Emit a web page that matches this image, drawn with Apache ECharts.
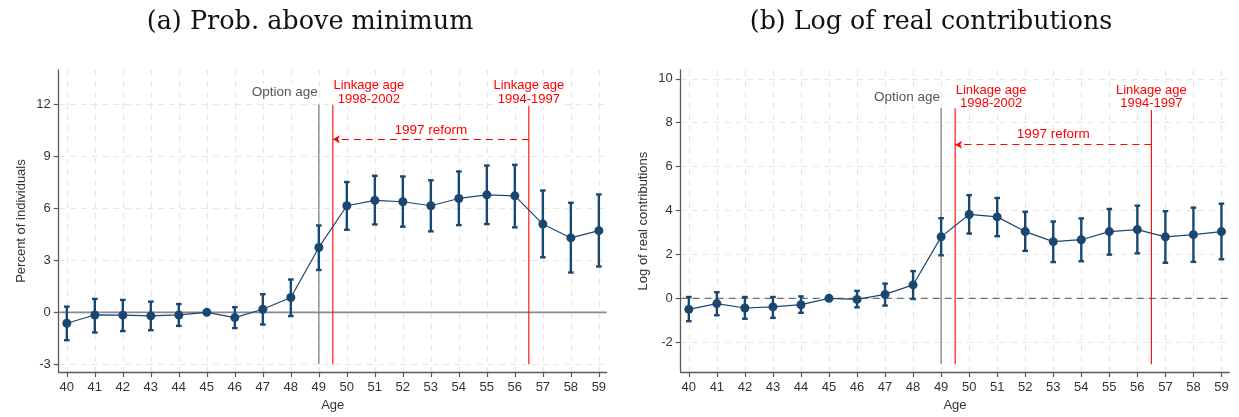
<!DOCTYPE html>
<html>
<head>
<meta charset="utf-8">
<script src="https://cdn.jsdelivr.net/npm/echarts@6/dist/echarts.min.js"></script>
<style>
html,body{margin:0;padding:0;background:#fff;}
#chart{width:1239px;height:417px;}
</style>
</head>
<body>
<div id="chart"></div>
<script>
// ---- data ----
const ages = [40,41,42,43,44,45,46,47,48,49,50,51,52,53,54,55,56,57,58,59];

const probPoint = [-0.63,-0.15,-0.16,-0.20,-0.15,0.00,-0.30,0.18,0.86,3.75,6.16,6.47,6.39,6.16,6.58,6.79,6.73,5.10,4.30,4.72];
const probLow   = [-1.61,-1.16,-1.08,-1.03,-0.78,0.00,-0.91,-0.70,-0.21,2.45,4.77,5.08,4.95,4.68,5.04,5.10,4.91,3.18,2.30,2.65];
const probHigh  = [0.33,0.78,0.72,0.62,0.48,0.00,0.30,1.05,1.90,5.02,7.53,7.89,7.85,7.63,8.14,8.48,8.52,7.04,6.33,6.81];

const logPoint = [-0.50,-0.24,-0.44,-0.39,-0.29,0.00,-0.05,0.18,0.61,2.80,3.82,3.71,3.04,2.58,2.67,3.04,3.13,2.80,2.90,3.04];
const logLow   = [-1.04,-0.77,-0.93,-0.89,-0.66,0.00,-0.41,-0.33,-0.03,1.96,2.95,2.83,2.16,1.65,1.69,1.99,2.05,1.62,1.66,1.78];
const logHigh  = [0.06,0.28,0.06,0.06,0.09,0.00,0.34,0.67,1.24,3.65,4.70,4.57,3.94,3.50,3.64,4.07,4.22,3.97,4.13,4.31];

const probTicks = [-3,0,3,6,9,12];
const logTicks  = [-2,0,2,4,6,8,10];

const titles = ['(a) Prob. above minimum', '(b) Log of real contributions'];
const yNames = ['Percent of individuals', 'Log of real contributions'];
const xName = 'Age';

const optionAge = 49;
const linkNew = 49.5, linkOld = 56.5;
const linkNewLabel = 'Linkage age\n1998-2002';
const linkOldLabel = 'Linkage age\n1994-1997';
const optionLabel = 'Option age';
const reformLabel = '1997 reform';

// ---- styles ----
const NAVY = '#1a476f';
const RED = '#ff0000';
const AXIS = '#5a5a5a';
const GRID = '#e6e6e6';
const SANS = 'Liberation Sans, Arial, sans-serif';
const XMIN = 39.71, XMAX = 59.28;

const chart = echarts.init(document.getElementById('chart'), null, {renderer:'canvas'});

function errSeries(idx, low, high){
  return {
    type:'custom', xAxisIndex:idx, yAxisIndex:idx, z:3, silent:true,
    data: ages.map((a,i)=>[a, low[i], high[i]]),
    renderItem: function(params, api){
      const x = api.value(0), lo = api.value(1), hi = api.value(2);
      const p1 = api.coord([x, lo]), p2 = api.coord([x, hi]);
      const w = 2.8;
      const st = {stroke:NAVY, lineWidth:2.4};
      return {type:'group', children:[
        {type:'line', shape:{x1:p1[0],y1:p1[1],x2:p2[0],y2:p2[1]}, style:st},
        {type:'line', shape:{x1:p1[0]-w,y1:p1[1],x2:p1[0]+w,y2:p1[1]}, style:st},
        {type:'line', shape:{x1:p2[0]-w,y1:p2[1],x2:p2[0]+w,y2:p2[1]}, style:st}
      ]};
    }
  };
}

// reference lines: [x1, y1, x2, y2, kind]
function refSeries(idx, yBottom, yTop, zeroDashed){
  const styles = {
    zero: zeroDashed ? {stroke:'#6e6e6e', lineWidth:1.3, lineDash:[7,5]} : {stroke:'#8a8a8a', lineWidth:1.6},
    option: {stroke:'#7a7a7a', lineWidth:1.2},
    link: {stroke:RED, lineWidth:1.1}
  };
  const lines = [
    [XMIN, 0, XMAX, 0, 'zero'],
    [optionAge, yBottom, optionAge, yTop, 'option'],
    [linkNew, yBottom, linkNew, yTop, 'link'],
    [linkOld, yBottom, linkOld, yTop, 'link']
  ];
  return {
    type:'custom', xAxisIndex:idx, yAxisIndex:idx, z:2, silent:true,
    data: lines.map((l,i)=>[l[0],l[1],l[2],l[3],i]),
    renderItem: function(params, api){
      const a = api.coord([api.value(0), api.value(1)]);
      const b = api.coord([api.value(2), api.value(3)]);
      const kind = lines[api.value(4)][4];
      return {type:'line', shape:{x1:a[0],y1:a[1],x2:b[0],y2:b[1]}, style:styles[kind]};
    }
  };
}

function annot(idx, labelY, arrowY, reformY){
  return {
    type:'line', xAxisIndex:idx, yAxisIndex:idx, z:4,
    data: ages.map((a,i)=>[a, idx===0 ? probPoint[i] : logPoint[i]]),
    symbol:'circle', symbolSize:9,
    itemStyle:{color:NAVY},
    lineStyle:{color:NAVY, width:1.2},
    animation:false,
    markLine:{
      silent:true, symbol:['none','none'], animation:false,
      label:{show:false},
      lineStyle:{color:RED, width:1.1, type:[7,5], opacity:1},
      data:[
        [{coord:[linkOld,arrowY], symbol:'none'},{coord:[linkNew,arrowY], symbol:'arrow', symbolSize:[6,7]}]
      ]
    },
    markPoint:{
      silent:true, animation:false, symbol:'circle', symbolSize:0,
      data:[
        {coord:[optionAge,labelY], label:{show:true, position:'left', distance:0, formatter:optionLabel, color:'#555555', fontFamily:SANS, fontSize:13.5, backgroundColor:'#fff', padding:[1,1,1,2]}},
        {coord:[linkNew,labelY], label:{show:true, position:'inside', offset:[36,0], align:'center', formatter:linkNewLabel, color:RED, fontFamily:SANS, fontSize:13, lineHeight:13.3, backgroundColor:'#fff', padding:[0,0]}},
        {coord:[linkOld,labelY], label:{show:true, position:'inside', align:'center', formatter:linkOldLabel, color:RED, fontFamily:SANS, fontSize:13, lineHeight:13.3, backgroundColor:'#fff', padding:[0,0]}},
        {coord:[53,reformY], label:{show:true, position:'inside', align:'center', formatter:reformLabel, color:RED, fontFamily:SANS, fontSize:13.5}}
      ]
    }
  };
}

function xAxisCfg(idx){
  return {
    type:'value', gridIndex:idx, min:XMIN, max:XMAX,
    name:xName, nameLocation:'middle', nameGap:25,
    nameTextStyle:{color:'#333', fontFamily:SANS, fontSize:13},
    axisLine:{show:true, onZero:false, lineStyle:{color:AXIS, width:1.3}},
    axisTick:{show:true, length:5, lineStyle:{color:AXIS, width:1.2}, customValues:ages},
    axisLabel:{color:'#333', fontFamily:SANS, fontSize:13, margin:9, customValues:ages},
    splitLine:{show:true, lineStyle:{color:GRID, width:1.2, type:[6,5]}}
  };
}
function yAxisCfg(idx, min, max, ticks, name){
  return {
    type:'value', gridIndex:idx, min:min, max:max,
    name:name, nameLocation:'middle', nameGap:31,
    nameTextStyle:{color:'#333', fontFamily:SANS, fontSize:13},
    axisLine:{show:true, onZero:false, lineStyle:{color:AXIS, width:1.3}},
    axisTick:{show:true, length:5, lineStyle:{color:AXIS, width:1.2}, customValues:ticks},
    axisLabel:{color:'#333', fontFamily:SANS, fontSize:13, margin:8, customValues:ticks},
    splitLine:{show:true, lineStyle:{color:GRID, width:1.2, type:[6,5]}}
  };
}

chart.setOption({
  backgroundColor:'#fff',
  animation:false,
  graphic:[
    {type:'text', x:310, y:22, style:{text:titles[0], align:'center', verticalAlign:'middle', font:'25.5px "DejaVu Serif", serif', fill:'#111'}},
    {type:'text', x:931, y:22, style:{text:titles[1], align:'center', verticalAlign:'middle', font:'25.3px "DejaVu Serif", serif', fill:'#111'}}
  ],
  grid:[
    {left:58.7, width:548, top:70, height:306},
    {left:680.7, width:548.6, top:70, height:306}
  ],
  xAxis:[xAxisCfg(0), xAxisCfg(1)],
  yAxis:[
    yAxisCfg(0, -3.45, 14.0, probTicks, yNames[0]),
    yAxisCfg(1, -3.36, 10.4, logTicks, yNames[1])
  ],
  series:[
    refSeries(0, -3, 12, false),
    errSeries(0, probLow, probHigh),
    annot(0, 12.7, 10.0, 10.5),
    refSeries(1, -3, 8.67, true),
    errSeries(1, logLow, logHigh),
    annot(1, 9.18, 7.0, 7.47)
  ]
});
</script>
</body>
</html>
